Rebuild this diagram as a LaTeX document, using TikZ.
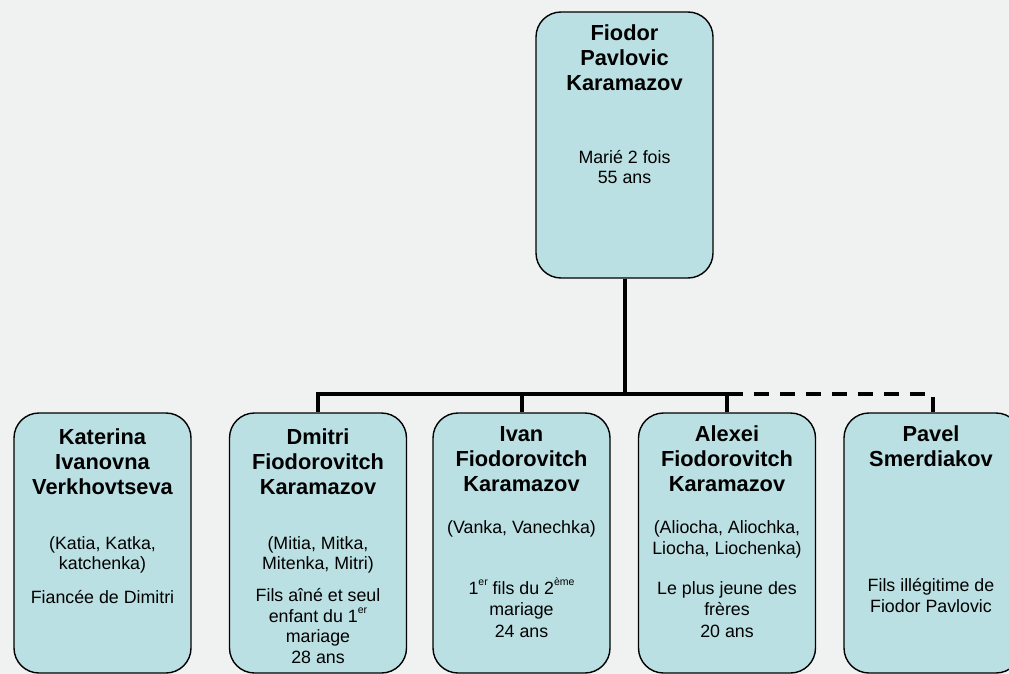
\documentclass[tikz,border=0pt]{standalone}
\usepackage{fontspec}
\setmainfont{Liberation Sans}
\definecolor{bg}{RGB}{240,242,241}
\definecolor{boxfill}{RGB}{187,224,227}
\newcommand\supx[1]{\raisebox{0.5em}{\fontsize{10.5}{10}\selectfont #1}}
\begin{document}
\begin{tikzpicture}[x=1pt,y=-1pt,
  person/.style={draw=black, line width=1.4pt, fill=boxfill, rounded corners=25pt,
    minimum width=177pt, minimum height=260pt, inner sep=0pt},
  conn/.style={line width=4pt},
  dashconn/.style={line width=4pt, dash pattern=on 15pt off 11pt},
  nm/.style={anchor=base, inner sep=0pt, font=\fontsize{21.8}{25}\selectfont\bfseries},
  tx/.style={anchor=base, inner sep=0pt, font=\fontsize{17.8}{20}\selectfont}]
\fill[bg] (0,0) rectangle (1009,674);
\useasboundingbox (0,0) rectangle (1009,674);

% boxes
\node[person, minimum height=266pt] (fiodor) at (624.5,145) {};
\node[person] (katerina) at (102.5,543) {};
\node[person] (dmitri) at (318,543) {};
\node[person] (ivan) at (521.5,543) {};
\node[person] (alexei) at (727,543) {};
\node[person] (pavel) at (932.5,543) {};

% connectors
\coordinate (j) at (624.5,394);
\draw[dashconn] (pavel.north) |- (j);
\draw[conn] (fiodor.south) -- (j);
\draw[conn] (dmitri.north) |- (j);
\draw[conn] (ivan.north) |- (j);
\draw[conn] (alexei.north) |- (j);

% Fiodor
\node[nm] (f1) at (624.5,40.5) {Fiodor};
\node[nm] (f2) at (624.5,65.5) {Pavlovic};
\node[nm] (f3) at (624.5,90.5) {Karamazov};
\node[tx] (f4) at (624.5,163.5) {Marié 2 fois};
\node[tx] (f5) at (624.5,183.5) {55 ans};

% Katerina
\node[nm] (k1) at (102.5,444.5) {Katerina};
\node[nm] (k2) at (102.5,469.5) {Ivanovna};
\node[nm] (k3) at (102.5,494.5) {Verkhovtseva};
\node[tx] (k4) at (102.5,549.5) {(Katia, Katka,};
\node[tx] (k5) at (102.5,569.5) {katchenka)};
\node[tx] (k6) at (102.5,603.5) {Fiancée de Dimitri};

% Dmitri
\node[nm] (d1) at (318,444.5) {Dmitri};
\node[nm] (d2) at (318,469.5) {Fiodorovitch};
\node[nm] (d3) at (318,494.5) {Karamazov};
\node[tx] (d4) at (318,549.5) {(Mitia, Mitka,};
\node[tx] (d5) at (318,569.5) {Mitenka, Mitri)};
\node[tx] (d6) at (318,601.5) {Fils aîné et seul};
\node[tx] (d7) at (318,622) {enfant du 1\supx{er}};
\node[tx] (d8) at (318,642) {mariage};
\node[tx] (d9) at (318,663) {28 ans};

% Ivan
\node[nm] (i1) at (521.5,441.5) {Ivan};
\node[nm] (i2) at (521.5,466.5) {Fiodorovitch};
\node[nm] (i3) at (521.5,491.5) {Karamazov};
\node[tx] (i4) at (521.5,533.5) {(Vanka, Vanechka)};
\node[tx] (i5) at (521.5,594.5) {1\supx{er} fils du 2\supx{ème}};
\node[tx] (i6) at (521.5,615.5) {mariage};
\node[tx] (i7) at (521.5,637.5) {24 ans};

% Alexei
\node[nm] (a1) at (727,441.5) {Alexei};
\node[nm] (a2) at (727,466.5) {Fiodorovitch};
\node[nm] (a3) at (727,491.5) {Karamazov};
\node[tx] (a4) at (727,533.5) {(Aliocha, Aliochka,};
\node[tx] (a5) at (727,554.5) {Liocha, Liochenka)};
\node[tx] (a6) at (727,594.5) {Le plus jeune des};
\node[tx] (a7) at (727,615.5) {frères};
\node[tx] (a8) at (727,637.5) {20 ans};

% Pavel
\node[nm] (p1) at (931,441.5) {Pavel};
\node[nm] (p2) at (931,466.5) {Smerdiakov};
\node[tx] (p3) at (931,591.5) {Fils illégitime de};
\node[tx] (p4) at (931,612.5) {Fiodor Pavlovic};
\end{tikzpicture}
\end{document}
